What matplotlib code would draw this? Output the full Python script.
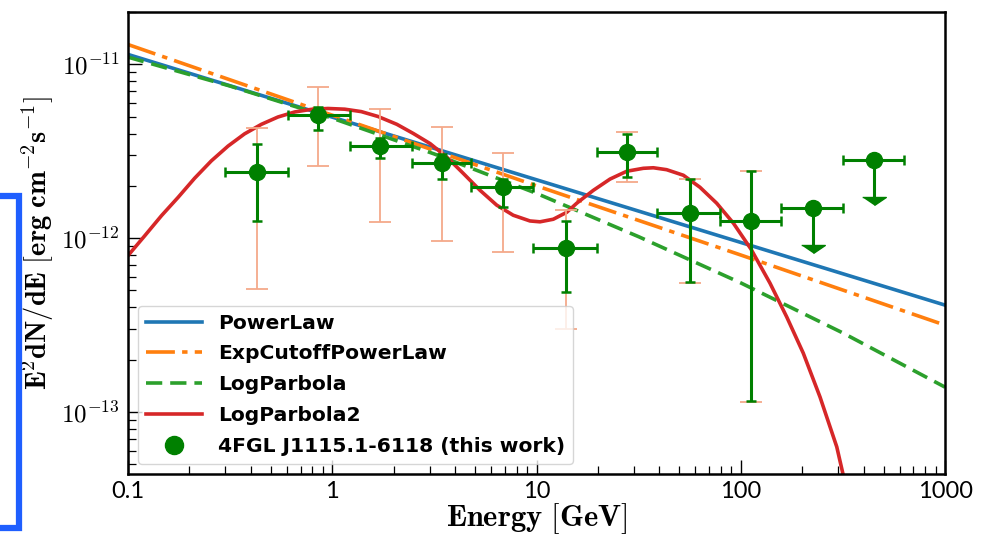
import matplotlib
matplotlib.use("Agg")
import matplotlib.pyplot as plt
import numpy as np
from matplotlib.lines import Line2D
from matplotlib.patches import Rectangle
from matplotlib.ticker import FixedLocator, FixedFormatter, LogLocator, NullFormatter

plt.rcParams["mathtext.fontset"] = "cm"

SCALE = 1e-12  # fluxes below are in units of 1e-12 erg cm^-2 s^-1

# binned SED points (GeV)
energy = [0.43, 0.85, 1.71, 3.44, 6.86, 13.9, 27.7, 56.5, 112.0]
energy_lo = [0.30, 0.61, 1.22, 2.45, 4.8, 9.6, 19.7, 39.0, 79.0]
energy_hi = [0.61, 1.22, 2.45, 4.8, 9.6, 19.7, 39.0, 79.0, 158.0]
flux = [2.4, 5.1, 3.38, 2.7, 1.96, 0.88, 3.12, 1.39, 1.25]
stat_lo = [1.25, 4.2, 2.88, 2.18, 1.51, 0.49, 2.24, 0.56, 0.116]
stat_hi = [3.5, 5.7, 3.75, 3.04, 2.18, 1.25, 3.96, 2.18, 2.43]
sys_lo = [0.51, 2.6, 1.24, 0.96, 0.83, 0.30, 2.1, 0.55, 0.114]
sys_hi = [4.3, 7.4, 5.5, 4.35, 3.08, 1.45, 4.07, 2.2, 2.45]

# upper limits
ul_energy = [226.0, 449.0]
ul_energy_lo = [158.0, 316.0]
ul_energy_hi = [316.0, 632.0]
ul_flux = [1.49, 2.8]
ul_base = [0.91, 1.72]

# model curves
pl_energy = [0.1, 1000.0]
pl_flux = [11.4, 0.412]

ecpl_energy = [0.1, 1.0, 10.0, 100.0, 1000.0]
ecpl_flux = [13.0, 5.1, 2.0, 0.80, 0.316]

lp_energy = [0.1, 0.316, 1.0, 3.16, 10.0, 31.6, 100.0, 316.0, 1000.0]
lp_flux = [11.0, 7.5, 4.9, 3.05, 1.81, 1.02, 0.553, 0.285, 0.139]

lp2_energy = [0.100, 0.121, 0.146, 0.176, 0.212, 0.256, 0.309, 0.372, 0.450,
              0.542, 0.655, 0.789, 0.953, 1.151, 1.387, 1.675, 2.070, 2.495,
              3.013, 3.631, 4.385, 5.284, 6.383, 7.691, 9.290, 10.40, 12.08,
              14.06, 15.74, 17.66, 18.97, 22.91, 27.67, 33.34, 37.33, 43.35,
              52.36, 63.10, 76.21, 92.04, 112.2, 139.0, 167.9, 202.3, 244.3,
              295.1, 342.8]
lp2_flux = [0.794, 1.035, 1.349, 1.718, 2.213, 2.786, 3.388, 3.981, 4.519,
            4.977, 5.321, 5.508, 5.572, 5.521, 5.346, 5.012, 4.519, 4.000,
            3.500, 2.931, 2.355, 1.888, 1.549, 1.355, 1.256, 1.242, 1.285,
            1.409, 1.589, 1.766, 1.884, 2.188, 2.427, 2.523, 2.541, 2.477,
            2.301, 1.963, 1.589, 1.219, 0.865, 0.551, 0.352, 0.218, 0.122,
            0.0630, 0.0292]

x_ticks = [0.1, 1, 10, 100, 1000]
x_tick_labels = ["0.1", "1", "10", "100", "1000"]
y_ticks = [1e-13, 1e-12, 1e-11]
y_tick_labels = [r"$10^{-13}$", r"$10^{-12}$", r"$10^{-11}$"]


def scaled(values):
    return np.asarray(values) * SCALE


fig = plt.figure(figsize=(9.93, 5.36), dpi=100)
ax = fig.add_axes([0.1289, 0.1157, 0.8228, 0.8619])

lw = 2.6
ax.plot(pl_energy, scaled(pl_flux), color="#1f77b4", lw=lw, label="PowerLaw", zorder=2)
ax.plot(ecpl_energy, scaled(ecpl_flux), color="#ff7f0e", lw=lw, dashes=(8, 2, 1.5, 2),
        label="ExpCutoffPowerLaw", zorder=2)
ax.plot(lp_energy, scaled(lp_flux), color="#2ca02c", lw=lw, dashes=(4.5, 2.2),
        label="LogParbola", zorder=2)
ax.plot(lp2_energy, scaled(lp2_flux), color="#d62728", lw=lw, label="LogParbola2", zorder=2)

E = np.asarray(energy)
F = scaled(flux)
xerr = [E - np.asarray(energy_lo), np.asarray(energy_hi) - E]

# systematic (light) errors
ax.errorbar(E, F, yerr=[F - scaled(sys_lo), scaled(sys_hi) - F], fmt="none",
            ecolor="#f5a98a", elinewidth=1.3, capsize=8, capthick=1.3, zorder=3)
# statistical errors + points
ax.errorbar(E, F, xerr=xerr, yerr=[F - scaled(stat_lo), scaled(stat_hi) - F],
            fmt="o", color="green", ms=11.5, elinewidth=2.2, capsize=3.5,
            capthick=1.8, zorder=4)

# upper limits
ulE = np.asarray(ul_energy)
ulF = scaled(ul_flux)
ax.errorbar(ulE, ulF, xerr=[ulE - np.asarray(ul_energy_lo), np.asarray(ul_energy_hi) - ulE],
            fmt="o", color="green", ms=11.5, elinewidth=2.2, capsize=3.5,
            capthick=1.8, zorder=4)
ax.vlines(ulE, scaled(ul_base), ulF, color="green", lw=2.2, zorder=4)
arrow = [(-1, 0), (1, 0), (0, -0.68)]
ax.plot(ulE, scaled(ul_base), linestyle="none", marker=arrow, ms=17,
        color="green", zorder=4)

ax.set_xscale("log")
ax.set_yscale("log")
ax.set_xlim(0.1, 1000)
ax.set_ylim(4.4e-14, 2.0e-11)

ax.xaxis.set_major_locator(FixedLocator(x_ticks))
ax.xaxis.set_major_formatter(FixedFormatter(x_tick_labels))
ax.xaxis.set_minor_locator(LogLocator(base=10, subs=np.arange(2, 10), numticks=20))
ax.xaxis.set_minor_formatter(NullFormatter())
ax.yaxis.set_major_locator(FixedLocator(y_ticks))
ax.yaxis.set_major_formatter(FixedFormatter(y_tick_labels))
ax.yaxis.set_minor_locator(LogLocator(base=10, subs=np.arange(2, 10), numticks=20))
ax.yaxis.set_minor_formatter(NullFormatter())

ax.tick_params(which="both", direction="in", top=False, right=False)
ax.tick_params(which="major", length=10, width=1.0, labelsize=18)
ax.tick_params(axis="x", which="major", pad=5, labelsize=17)
ax.tick_params(axis="y", which="major", pad=6)
ax.tick_params(which="minor", length=6, width=0.9)
for lab in ax.get_xticklabels():
    lab.set_fontfamily("Lato")
for s in ax.spines.values():
    s.set_linewidth(1.8)

ax.set_xlabel(r"$\mathbf{Energy\ [GeV]}$", fontsize=22)
ax.xaxis.set_label_coords(0.5, -0.058)
ax.set_ylabel(r"$\mathbf{E^2dN/dE\ [erg\ cm^{-2}s^{-1}]}$", fontsize=20.5)
ax.yaxis.set_label_coords(-0.088, 0.5)

handles, labels = ax.get_legend_handles_labels()
handles.append(Line2D([], [], linestyle="none", marker="o", color="green", ms=13))
labels.append("4FGL J1115.1-6118 (this work)")
ax.legend(handles, labels, loc="lower left",
          prop={"family": "DejaVu Sans", "weight": "bold", "size": 14.6},
          handlelength=2.75, labelspacing=0.58, framealpha=0.8, edgecolor="#cccccc",
          borderaxespad=0.5)

# frame of the neighbouring panel peeking in at the left edge
fig.add_artist(Rectangle((-20 / 993, 8 / 536), 39 / 993, 332 / 536, transform=fig.transFigure,
                         fill=False, edgecolor="#1f5fff", lw=4.5))

fig.savefig("out.png", dpi=100)
